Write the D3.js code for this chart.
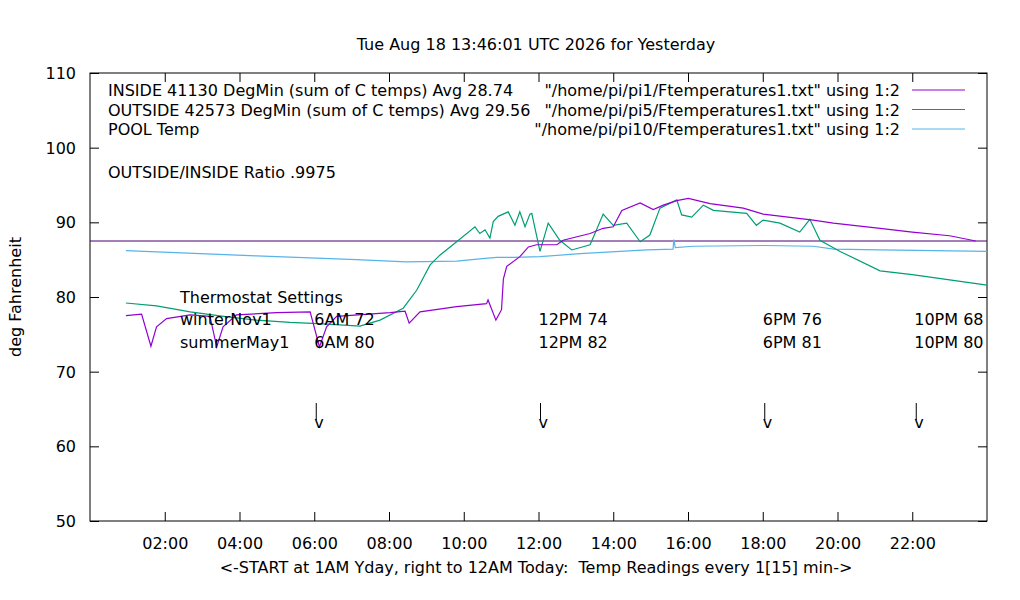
<!DOCTYPE html>
<html><head><meta charset="utf-8">
<script src="https://cdn.jsdelivr.net/npm/d3@7"></script>
<style>body{margin:0;background:#fff}text{font-family:"DejaVu Sans",sans-serif;font-size:16px;fill:#000;white-space:pre}</style>
</head><body><svg id="c" width="1020" height="600"></svg>
<script>
const insideH=[0.96,1.38,1.63,1.78,2.05,2.68,3.21,3.39,3.56,3.92,4.99,5.89,6.14,6.33,6.6,8.03,8.43,8.54,8.83,9.81,10.61,10.65,10.86,11.01,11.06,11.15,11.5,11.73,11.95,12.49,12.66,13.38,13.73,14.0,14.23,14.72,15.07,15.34,15.7,16.01,16.59,17.48,18.01,19.35,19.89,21.14,22.0,23.0,23.7];
const insideT=[77.5,77.7,73.4,76.0,77.1,77.6,77.4,73.3,76.0,77.6,77.9,78.0,73.3,76.0,77.4,77.9,78.1,76.5,78.0,78.7,79.1,79.6,76.9,78.3,82.4,84.1,85.4,86.7,87.0,87.0,87.6,88.5,89.2,89.4,91.6,92.6,91.7,92.3,92.9,93.2,92.5,91.9,91.1,90.3,89.9,89.2,88.7,88.2,87.5];
const outsideH=[0.96,1.78,2.68,3.57,4.46,5.35,6.24,7.22,7.76,8.38,8.74,9.1,9.36,9.81,10.3,10.43,10.57,10.7,10.79,10.92,11.19,11.37,11.5,11.64,11.77,11.82,12.04,12.26,12.57,12.89,13.38,13.51,13.73,14.0,14.36,14.72,14.98,15.25,15.7,15.83,16.1,16.41,16.68,17.12,17.57,17.83,18.01,18.46,18.99,19.26,19.53,20.07,21.14,22.0,23.0,24.0];
const outsideT=[79.2,78.8,78.0,77.4,76.9,76.6,76.4,76.1,76.9,78.5,80.9,84.3,85.6,87.4,89.4,88.5,89.0,87.9,90.1,90.8,91.4,89.6,91.4,89.4,91.1,91.2,86.1,89.9,87.6,86.3,87.0,88.5,91.1,89.6,89.9,87.4,88.3,91.9,93.0,91.0,90.7,92.3,91.6,91.4,91.2,89.6,90.3,89.9,88.7,90.4,87.6,86.1,83.5,83.0,82.3,81.6];
const poolH=[0.96,4.46,7.13,8.47,9.81,10.43,10.88,11.33,12.04,13.11,14.9,15.6,15.62,15.66,16.14,18.01,19.35,19.9,21.14,24.0];
const poolT=[86.2,85.5,85.0,84.7,84.8,85.1,85.3,85.3,85.4,85.8,86.3,86.4,87.7,86.6,86.8,86.9,86.8,86.4,86.3,86.1];
const yTicks=[50,60,70,80,90,100,110];
const xTicks=[2,4,6,8,10,12,14,16,18,20,22];
const legendNames=["INSIDE 41130 DegMin (sum of C temps) Avg 28.74","OUTSIDE 42573 DegMin (sum of C temps) Avg 29.56","POOL Temp"];
const legendFiles=['"/home/pi/pi1/Ftemperatures1.txt" using 1:2','"/home/pi/pi5/Ftemperatures1.txt" using 1:2','"/home/pi/pi10/Ftemperatures1.txt" using 1:2'];
const colors=["#9400d3","#009e73","#56b4e9"];
const settingH=[6,12,18,22];
const winter=["6AM 72","12PM 74","6PM 76","10PM 68"];
const summer=["6AM 80","12PM 82","6PM 81","10PM 80"];
const refLine=87.5;

const svg=d3.select("#c");
const L=90,R=987,T=73,B=521;
const x=d3.scaleLinear().domain([0,24]).range([L,R]);
const y=d3.scaleLinear().domain([50,110]).range([B,T]);
const pad=n=>String(n).padStart(2,"0")+":00";

svg.append("rect").attr("x",L).attr("y",T).attr("width",R-L).attr("height",B-T).attr("fill","none").attr("stroke","#000");
const ga=svg.append("g").attr("transform",`translate(${L},0)`).call(d3.axisLeft(y).tickValues(yTicks).tickSize(-9).tickPadding(14));
const gr=svg.append("g").attr("transform",`translate(${R},0)`).call(d3.axisRight(y).tickValues(yTicks).tickSize(-9).tickFormat(""));
const gb=svg.append("g").attr("transform",`translate(0,${B})`).call(d3.axisBottom(x).tickValues(xTicks).tickSize(-9).tickPadding(14).tickFormat(pad));
const gt=svg.append("g").attr("transform",`translate(0,${T})`).call(d3.axisTop(x).tickValues(xTicks).tickSize(-9).tickFormat(""));
[ga,gr,gb,gt].forEach(g=>{g.select(".domain").remove();g.selectAll("text").attr("font-size",null).attr("font-family",null);});
ga.selectAll("text").attr("dy","0.35em");
gb.selectAll("text").attr("dy","0.85em");

svg.append("line").attr("x1",L).attr("x2",R).attr("y1",y(refLine)).attr("y2",y(refLine)).attr("stroke","#4b0070");

const line=d3.line().x(d=>x(d[0])).y(d=>y(d[1]));
[[poolH,poolT,2],[outsideH,outsideT,1],[insideH,insideT,0]].forEach(([h,t,i])=>{
 svg.append("path").datum(h.map((v,k)=>[v,t[k]])).attr("d",line).attr("fill","none").attr("stroke",colors[i]).attr("stroke-width",1.2);
});

svg.append("text").attr("x",536).attr("y",50).attr("text-anchor","middle").text("Tue Aug 18 13:46:01 UTC 2026 for Yesterday");
svg.append("text").attr("transform","translate(21,297) rotate(-90)").attr("text-anchor","middle").text("deg Fahrenheit");
svg.append("text").attr("x",536).attr("y",573).attr("text-anchor","middle").text("<-START at 1AM Yday, right to 12AM Today:  Temp Readings every 1[15] min->");

legendNames.forEach((n,i)=>{
 const yy=90+i*19.5;
 svg.append("text").attr("x",108).attr("y",yy+6).text(n);
 svg.append("text").attr("x",900).attr("y",yy+6).attr("text-anchor","end").text(legendFiles[i]);
 svg.append("line").attr("x1",912).attr("x2",965).attr("y1",yy).attr("y2",yy).attr("stroke",colors[i]);
});
svg.append("text").attr("x",108).attr("y",178).text("OUTSIDE/INSIDE Ratio .9975");

svg.append("text").attr("x",180).attr("y",303).text("Thermostat Settings");
svg.append("text").attr("x",180).attr("y",325).text("winterNov1");
svg.append("text").attr("x",180).attr("y",348).text("summerMay1");
settingH.forEach((h,i)=>{
 const xx=x(h)+(i==3?2:0);
 svg.append("text").attr("x",xx).attr("y",325).text(winter[i]);
 svg.append("text").attr("x",xx).attr("y",348).text(summer[i]);
 svg.append("line").attr("x1",xx+2).attr("x2",xx+2).attr("y1",403).attr("y2",420).attr("stroke","#000");
 svg.append("text").attr("x",xx).attr("y",428).text("v");
});
</script></body></html>
